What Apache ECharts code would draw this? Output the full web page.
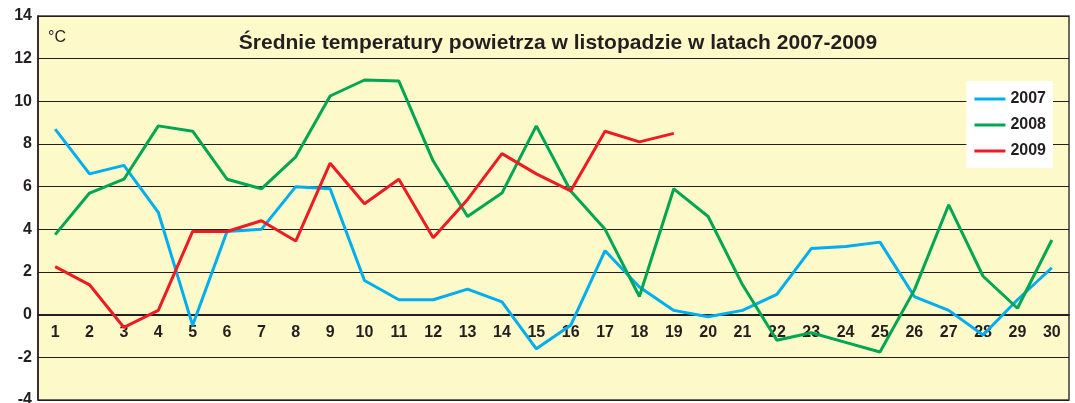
<!DOCTYPE html>
<html>
<head>
    <meta charset="utf-8">
    <title>Średnie temperatury powietrza</title>
    <script src="https://cdn.jsdelivr.net/npm/echarts@6/dist/echarts.min.js"></script>
</head>
<body style="margin:0;padding:0;background:#fff;">
<div id="main" style="margin:0;padding:0;width:1075px;height:403px;"></div>
<script type="text/javascript">
    // dni listopada
    var days = ['1','2','3','4','5','6','7','8','9','10','11','12','13','14','15',
                '16','17','18','19','20','21','22','23','24','25','26','27','28','29','30'];

    var t2007 = [8.7, 6.6, 7.0, 4.8, -0.5, 3.9, 4.0, 6.0, 5.9, 1.6, 0.7, 0.7, 1.2, 0.6, -1.6,
                 -0.5, 3.0, 1.3, 0.2, -0.1, 0.2, 0.95, 3.1, 3.2, 3.4, 0.85, 0.2, -0.95, 0.7, 2.2];
    var t2008 = [3.75, 5.7, 6.35, 8.85, 8.6, 6.35, 5.9, 7.4, 10.25, 11.0, 10.95, 7.2, 4.6, 5.7, 8.85,
                 5.8, 4.0, 0.85, 5.9, 4.6, 1.4, -1.2, -0.85, -1.3, -1.75, 1.15, 5.15, 1.8, 0.3, 3.5];
    var t2009 = [2.25, 1.4, -0.6, 0.2, 3.9, 3.9, 4.4, 3.45, 7.1, 5.2, 6.35, 3.6, 5.4, 7.55, 6.6,
                 5.8, 8.6, 8.1, 8.5, null, null, null, null, null, null, null, null, null, null, null];

    var yTicks = {min: -4, max: 14, step: 2};

    var dark = '#231f20';
    var font = '"Liberation Sans", Arial, sans-serif';

    var gridTop = 16, gridBottom = 3, chartH = 403;
    // os X lezy na zerze - przesuwamy ja w gore o odcinek od -4 do 0
    var plotH = chartH - gridTop - gridBottom;
    var zeroOffset = -(0 - yTicks.min) / (yTicks.max - yTicks.min) * plotH;

    var myChart = echarts.init(document.getElementById('main'));

    var option = {
        backgroundColor: '#ffffff',
        animation: false,
        textStyle: {fontFamily: font, color: dark},
        title: {
            text: 'Średnie temperatury powietrza w listopadzie w latach 2007-2009',
            left: 553, top: 28, textAlign: 'center',
            textStyle: {fontFamily: font, fontSize: 21, fontWeight: 'bold', color: dark}
        },
        graphic: [{
            type: 'text', left: 48, top: 30,
            style: {text: '°C', fontFamily: font, fontSize: 16, fill: dark}
        }],
        legend: {
            orient: 'vertical',
            right: 22, top: 81,
            backgroundColor: '#ffffff',
            padding: [10, 7, 9, 8],
            icon: 'rect',
            itemWidth: 31, itemHeight: 3, itemGap: 10,
            textStyle: {fontFamily: font, fontSize: 16, lineHeight: 14, fontWeight: 'bold', color: dark},
            data: ['2007', '2008', '2009']
        },
        grid: {
            left: 38, right: 6, top: gridTop, bottom: gridBottom,
            outerBoundsMode: 'none',
            show: true,
            backgroundColor: '#fef9c9',
            borderColor: '#3a3a3a', borderWidth: 1.5
        },
        xAxis: {
            type: 'category',
            data: days,
            boundaryGap: true,
            offset: zeroOffset,
            axisLine: {onZero: false, lineStyle: {color: dark, width: 2}},
            axisTick: {length: 4, lineStyle: {color: dark, width: 1.5}},
            axisLabel: {margin: 10, fontFamily: font, fontSize: 16, fontWeight: 'bold', color: dark, interval: 0}
        },
        yAxis: {
            type: 'value',
            min: yTicks.min, max: yTicks.max, interval: yTicks.step,
            axisLine: {show: true, lineStyle: {color: dark, width: 1.5}},
            axisTick: {show: false},
            axisLabel: {margin: 6, fontFamily: font, fontSize: 16, fontWeight: 'bold', color: dark},
            splitLine: {lineStyle: {color: dark, width: 1.2}}
        },
        series: [
            {name: '2007', type: 'line', data: t2007, symbol: 'none', color: '#00aeef',
             lineStyle: {width: 3, color: '#00aeef'}},
            {name: '2008', type: 'line', data: t2008, symbol: 'none', color: '#00a651',
             lineStyle: {width: 3, color: '#00a651'}},
            {name: '2009', type: 'line', data: t2009, symbol: 'none', color: '#ed1c24',
             lineStyle: {width: 3, color: '#ed1c24'}}
        ]
    };

    myChart.setOption(option);
</script>
</body>
</html>
